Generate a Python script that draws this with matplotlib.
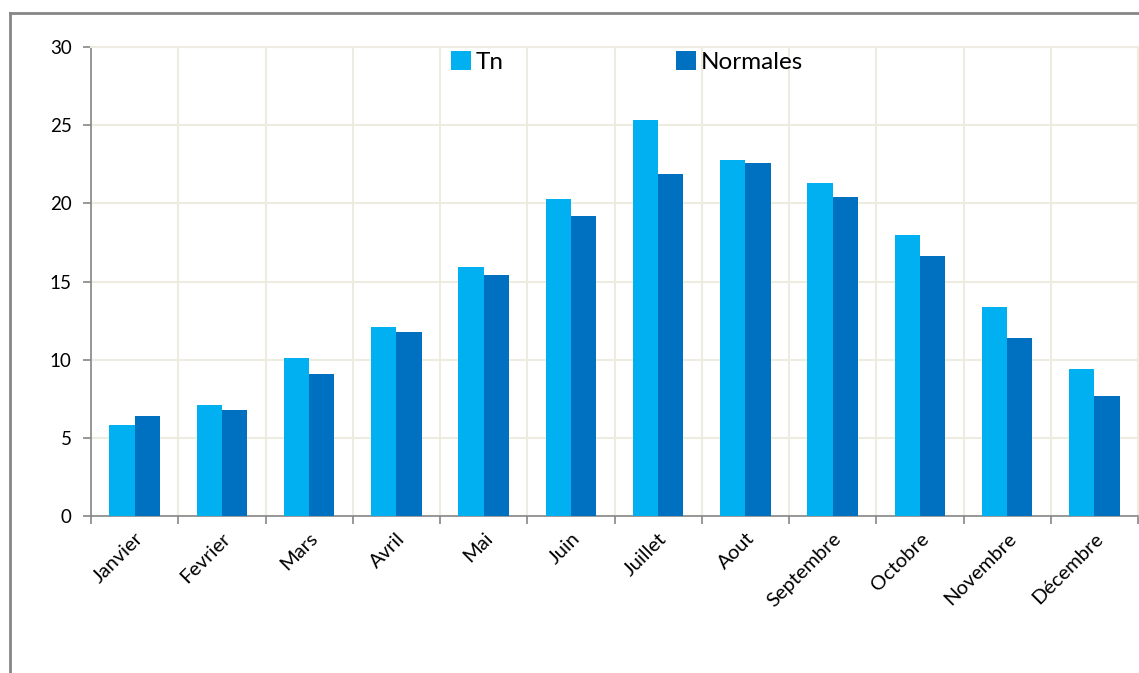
import numpy as np
from matplotlib import pyplot as plt
from matplotlib.lines import Line2D

mois = ['Janvier', 'Fevrier', 'Mars', 'Avril', 'Mai', 'Juin', 'Juillet',
        'Aout', 'Septembre', 'Octobre', 'Novembre', 'Décembre']
tn = [5.8, 7.1, 10.1, 12.1, 15.9, 20.3, 25.3, 22.8, 21.3, 18.0, 13.4, 9.4]
normales = [6.4, 6.8, 9.1, 11.8, 15.4, 19.2, 21.9, 22.6, 20.4, 16.6, 11.4, 7.7]

plt.rcParams['font.family'] = ['Lato', 'DejaVu Sans']

fig = plt.figure(figsize=(11.39, 6.73), dpi=100)
ax = fig.add_axes([91 / 1139, 1 - 516 / 673, 1047 / 1139, 469 / 673])

x = np.arange(len(mois))
w = 0.29
ax.bar(x - w / 2, tn, width=w, color='#00B0F0', label='Tn', zorder=3)
ax.bar(x + w / 2, normales, width=w, color='#0070C0', label='Normales', zorder=3)

ax.set_xlim(-0.5, len(mois) - 0.5)
ax.set_ylim(0, 30)
ax.set_yticks(range(0, 31, 5))
ax.set_xticks(x)
ax.set_xticklabels(mois, rotation=45, ha='right', rotation_mode='anchor', fontsize=14.5)
ax.set_xticks(np.arange(-0.5, len(mois)), minor=True)
ax.tick_params(axis='x', which='major', length=0, pad=10)
ax.tick_params(axis='x', which='minor', length=6, color='#868686', width=1.2)
ax.tick_params(axis='y', length=6, color='#868686', width=1.2, labelsize=13.5, pad=8)

ax.grid(True, which='minor', axis='x', color='#EEECE1', linewidth=1.5, zorder=0)
ax.grid(True, which='major', axis='y', color='#EEECE1', linewidth=1.5, zorder=0)
for s in ['top', 'right']:
    ax.spines[s].set_color('#EEECE1')
    ax.spines[s].set_linewidth(1.5)
for s in ['left', 'bottom']:
    ax.spines[s].set_color('#868686')
    ax.spines[s].set_linewidth(1.2)

ax.legend(loc='upper left', bbox_to_anchor=(0.335, 1.012), ncol=2, frameon=False,
          fontsize=17.5, handlelength=0.8, handleheight=0.8, handletextpad=0.2,
          columnspacing=7.1, borderaxespad=0.0)

# cadre du graphique
fig.add_artist(Line2D([10 / 1139, 10 / 1139], [0, 1 - 13 / 673], color='#868686', lw=2))
fig.add_artist(Line2D([10 / 1139, 1], [1 - 13 / 673, 1 - 13 / 673], color='#868686', lw=2))

fig.savefig('out.png', dpi=100)
